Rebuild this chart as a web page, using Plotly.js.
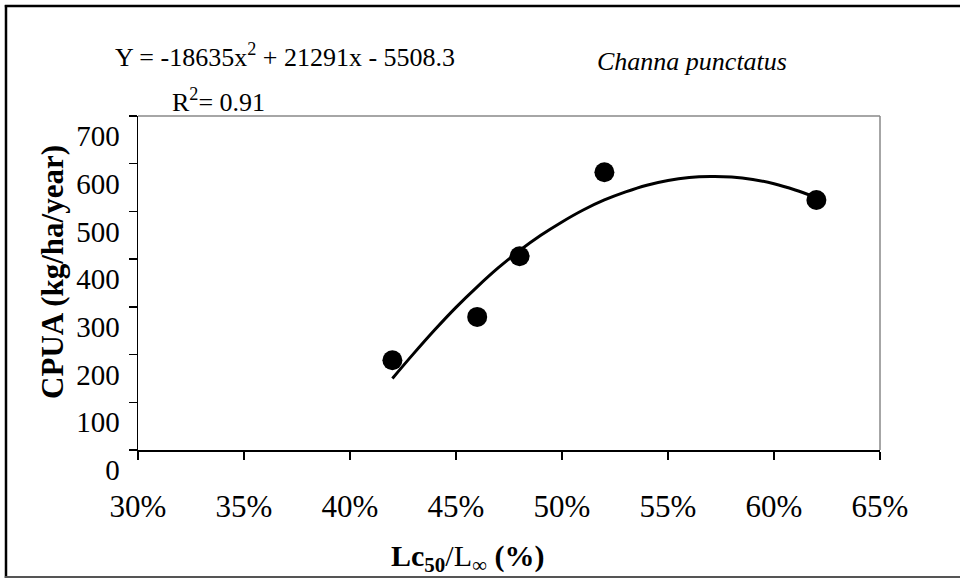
<!DOCTYPE html>
<html>
<head>
<meta charset="utf-8">
<script src="https://cdn.plot.ly/plotly-3.0.1.min.js"></script>
<style>html,body{margin:0;padding:0;background:#fff;}#chart{width:960px;height:578px;}</style>
</head>
<body>
<div id="chart"></div>
<script>
// Observed points
const obsX = [0.42, 0.46, 0.48, 0.52, 0.62];
const obsY = [188, 279, 406, 582, 524];
// Trend curve
const fitX = [0.42,0.43,0.44,0.45,0.46,0.47,0.48,0.49,0.50,0.51,0.52,0.53,0.54,0.55,0.56,0.57,0.58,0.59,0.60,0.61,0.62];
const fitY = [150,202,252,299,342,382,418,450,478,503,524,541,555,565,571,573,572,567,558,545,529];
// Axis ticks
const xTicks = [0.30,0.35,0.40,0.45,0.50,0.55,0.60,0.65];
const xTickText = ['30%','35%','40%','45%','50%','55%','60%','65%'];
const yTicks = [0,100,200,300,400,500,600,700];

const serif = '"Liberation Serif", "Times New Roman", serif';

const traces = [
  {x: fitX, y: fitY, mode: 'lines', line: {color: '#000', width: 3, shape: 'spline'}, hoverinfo: 'skip', showlegend: false},
  {x: obsX, y: obsY, mode: 'markers', marker: {color: '#000', size: 20}, showlegend: false}
];

const layout = {
  width: 960, height: 578,
  margin: {l: 138, r: 80, t: 116, b: 128},
  paper_bgcolor: '#fff', plot_bgcolor: '#fff',
  showlegend: false,
  xaxis: {
    range: [0.30, 0.65], tickvals: xTicks, ticktext: xTickText,
    showgrid: false, zeroline: false, showline: true, linecolor: '#000', linewidth: 1.5,
    ticks: 'outside', ticklen: 8, tickwidth: 1.5, tickcolor: '#000',
    ticklabelstandoff: 20,
    tickfont: {family: serif, size: 31, color: '#000'}
  },
  yaxis: {
    range: [0, 700], tickvals: yTicks,
    showgrid: false, zeroline: false, showline: true, linecolor: '#000', linewidth: 1.5,
    ticks: 'outside', ticklen: 8, tickwidth: 1.5, tickcolor: '#000',
    ticklabelshift: 20, ticklabelstandoff: 3,
    tickfont: {family: serif, size: 29, color: '#000'}
  },
  shapes: [
    {type: 'line', xref: 'paper', yref: 'paper', x0: 0, x1: 1, y0: 1, y1: 1, line: {color: '#888', width: 1.5}},
    {type: 'line', xref: 'paper', yref: 'paper', x0: 1, x1: 1, y0: 0, y1: 1, line: {color: '#888', width: 1.5}},
    {type: 'line', xref: 'paper', yref: 'paper', x0: -0.1779, x1: -0.1779, y0: -0.385, y1: 1.3323, line: {color: '#000', width: 2.5}},
    {type: 'line', xref: 'paper', yref: 'paper', x0: -0.1795, x1: 1.11, y0: 1.3293, y1: 1.3293, line: {color: '#000', width: 2.5}},
    {type: 'line', xref: 'paper', yref: 'paper', x0: -0.1795, x1: 1.11, y0: -0.3802, y1: -0.3802, line: {color: '#555', width: 2}}
  ],
  annotations: [
    {xref: 'paper', yref: 'paper', x: -0.0337, y: 1.1826, xanchor: 'left', yanchor: 'middle', showarrow: false,
     text: 'Y = -18635x<sup>2</sup> + 21291x - 5508.3', font: {family: serif, size: 26, color: '#000'}},
    {xref: 'paper', yref: 'paper', x: 0.0431, y: 1.0479, xanchor: 'left', yanchor: 'middle', showarrow: false,
     text: 'R<sup>2</sup>= 0.91', font: {family: serif, size: 26, color: '#000'}},
    {xref: 'paper', yref: 'paper', x: 0.6159, y: 1.1617, xanchor: 'left', yanchor: 'middle', showarrow: false,
     text: '<i>Channa punctatus</i>', font: {family: serif, size: 26, color: '#000'}},
    {xref: 'paper', yref: 'paper', x: 0.4434, y: -0.3234, xanchor: 'center', yanchor: 'middle', showarrow: false,
     text: '<b>Lc<sub>50</sub></b>/L<sub>\u221e</sub> <b>(%)</b>', font: {family: serif, size: 30, color: '#000'}},
    {xref: 'paper', yref: 'paper', x: -0.1146, y: 0.533, xanchor: 'center', yanchor: 'middle', showarrow: false, textangle: -90,
     text: '<b>CPUA (kg/ha/year)</b>', font: {family: serif, size: 31, color: '#000'}}
  ]
};

Plotly.newPlot('chart', traces, layout, {displayModeBar: false, staticPlot: true});
</script>
</body>
</html>
